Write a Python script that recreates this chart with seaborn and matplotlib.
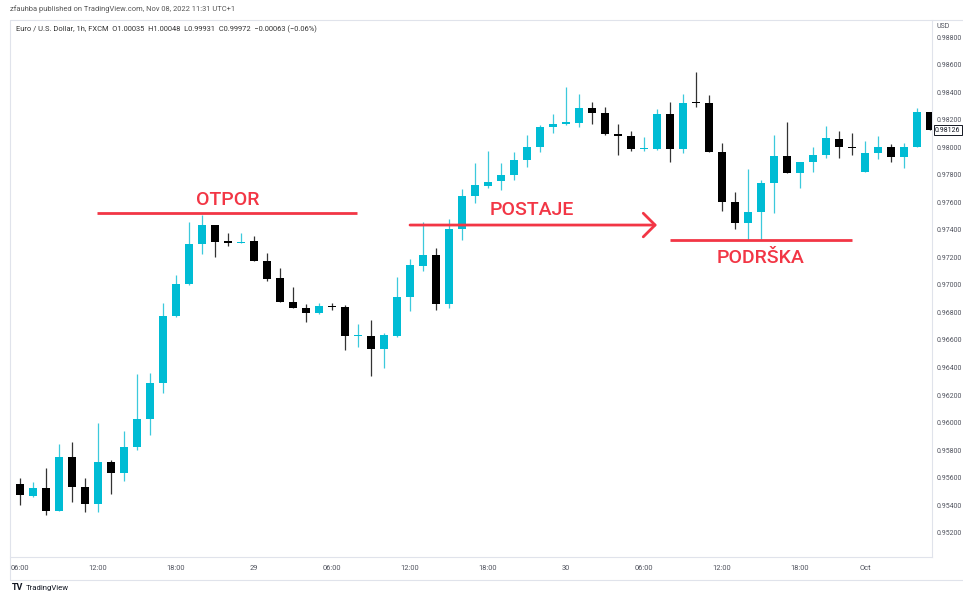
import numpy as np
import pandas as pd
import matplotlib
matplotlib.use("Agg")
import matplotlib.pyplot as plt
import seaborn as sns

# ---------------- data ----------------
opens = [0.95458, 0.95553, 0.95465, 0.95524, 0.95356, 0.95749, 0.95531, 0.95407, 0.95713, 0.95633,
         0.95822, 0.96025, 0.96287, 0.96775, 0.97007, 0.97298, 0.97436, 0.97320, 0.97305, 0.97320,
         0.97175, 0.97051, 0.96876, 0.96833, 0.96796, 0.96847, 0.96840, 0.96629, 0.96629, 0.96534,
         0.96629, 0.96913, 0.97138, 0.97218, 0.96862, 0.97407, 0.97647, 0.97720, 0.97756, 0.97800,
         0.97909, 0.98004, 0.98149, 0.98171, 0.98178, 0.98287, 0.98251, 0.98098, 0.98084, 0.97989,
         0.97989, 0.98244, 0.97989, 0.98331, 0.98324, 0.97967, 0.97604, 0.97451, 0.97531, 0.97742,
         0.97938, 0.97815, 0.97895, 0.97945, 0.98062, 0.98004, 0.97822, 0.97960, 0.98004, 0.97931,
         0.98004, 0.98258]
highs = [0.95545, 0.95596, 0.95567, 0.95669, 0.95844, 0.95858, 0.95596, 0.95996, 0.95727, 0.95938,
         0.96353, 0.96360, 0.96869, 0.97073, 0.97458, 0.97509, 0.97436, 0.97378, 0.97378, 0.97356,
         0.97233, 0.97124, 0.96985, 0.96862, 0.96869, 0.96869, 0.96855, 0.96716, 0.96745, 0.96651,
         0.97058, 0.97189, 0.97458, 0.97269, 0.97480, 0.97698, 0.97887, 0.97975, 0.97887, 0.97967,
         0.98091, 0.98164, 0.98244, 0.98440, 0.98389, 0.98331, 0.98295, 0.98171, 0.98120, 0.98076,
         0.98280, 0.98331, 0.98389, 0.98549, 0.98382, 0.98033, 0.97676, 0.97844, 0.97764, 0.98091,
         0.98185, 0.97895, 0.98004, 0.98156, 0.98120, 0.98105, 0.98047, 0.98084, 0.98025, 0.98033,
         0.98287, 0.98258]
lows = [0.95458, 0.95400, 0.95458, 0.95327, 0.95356, 0.95422, 0.95349, 0.95349, 0.95480, 0.95574,
        0.95800, 0.95909, 0.96214, 0.96767, 0.97000, 0.97225, 0.97204, 0.97284, 0.97305, 0.97175,
        0.97029, 0.96876, 0.96833, 0.96731, 0.96789, 0.96818, 0.96527, 0.96549, 0.96338, 0.96396,
        0.96622, 0.96811, 0.97102, 0.96818, 0.96833, 0.97327, 0.97596, 0.97705, 0.97691, 0.97764,
        0.97858, 0.97967, 0.98105, 0.98164, 0.98149, 0.98171, 0.98091, 0.97945, 0.97975, 0.97975,
        0.97982, 0.97895, 0.97960, 0.98295, 0.97967, 0.97538, 0.97407, 0.97327, 0.97327, 0.97524,
        0.97815, 0.97705, 0.97822, 0.97924, 0.97924, 0.97945, 0.97822, 0.97916, 0.97895, 0.97851,
        0.98004, 0.98127]
closes = [0.95545, 0.95473, 0.95524, 0.95356, 0.95749, 0.95531, 0.95407, 0.95713, 0.95633, 0.95822,
          0.96025, 0.96287, 0.96775, 0.97007, 0.97298, 0.97436, 0.97313, 0.97305, 0.97313, 0.97175,
          0.97044, 0.96876, 0.96833, 0.96796, 0.96847, 0.96840, 0.96629, 0.96636, 0.96534, 0.96636,
          0.96913, 0.97145, 0.97218, 0.96862, 0.97407, 0.97647, 0.97727, 0.97749, 0.97800, 0.97909,
          0.98004, 0.98149, 0.98171, 0.98185, 0.98287, 0.98251, 0.98098, 0.98084, 0.97989, 0.97996,
          0.98244, 0.97989, 0.98324, 0.98324, 0.97967, 0.97604, 0.97451, 0.97531, 0.97742, 0.97938,
          0.97815, 0.97895, 0.97945, 0.98069, 0.98004, 0.97996, 0.97960, 0.98004, 0.97931, 0.98004,
          0.98258, 0.98126]
# bar index (hourly bars, first one is 05:00 on Sep 28 and is cut by the pane edge)
bar_index = list(range(-1, 71))

price_ticks = [0.952, 0.954, 0.956, 0.958, 0.960, 0.962, 0.964, 0.966, 0.968, 0.970,
               0.972, 0.974, 0.976, 0.978, 0.980, 0.982, 0.984, 0.986, 0.988]
time_tick_pos = [0, 6, 12, 18, 24, 30, 36, 42, 48, 54, 60, 65]
time_tick_labels = ["06:00", "12:00", "18:00", "29", "06:00", "12:00", "18:00", "30",
                    "06:00", "12:00", "18:00", "Oct"]
last_price = 0.98126

# annotations: (x0, x1, level) lines and labels
otpor_line = (5.92, 25.92, 0.97524)
otpor_text = (16.0, 0.97582, "OTPOR")
postaje_arrow = (30.0, 49.0, 0.97436)
postaje_text = (39.4, 0.97509, "POSTAJE")
podrska_line = (50.0, 64.0, 0.97327)
podrska_text = (57.0, 0.97160, "PODRŠKA")

# ---------------- style ----------------
sns.set_theme(style="white")
plt.rcParams["font.family"] = ["Roboto", "DejaVu Sans"]

UP = "#00bcd4"
DOWN = "#000000"
RED = "#f23645"
AXTXT = "#50535e"
BORDER = "#e0e3eb"

df = pd.DataFrame({"i": bar_index, "open": opens, "high": highs, "low": lows, "close": closes})
df["up"] = df["close"] >= df["open"]
df["color"] = np.where(df["up"], UP, DOWN)
df["wick"] = np.where(df["up"], "#3cc9dc", "#333333")
df["bottom"] = df[["open", "close"]].min(axis=1)
df["height"] = (df["close"] - df["open"]).abs().clip(lower=0.00008)

W, H = 963, 594
fig = plt.figure(figsize=(W / 100, H / 100), dpi=100)
fig.patch.set_facecolor("white")
ax = fig.add_axes([10 / W, 1 - 557 / H, 922 / W, 537 / H])
ax.set_facecolor("white")

ax.vlines(df["i"], df["low"], df["high"], colors=df["wick"], linewidth=0.9, zorder=2)
ax.bar(df["i"], df["height"], bottom=df["bottom"], width=0.68, color=df["color"],
       linewidth=0, zorder=3)

ax.set_xlim(-0.77, 70.15)
ax.set_ylim(0.95022, 0.98927)

# axes
ax.yaxis.tick_right()
ax.set_yticks(price_ticks)
ax.set_yticklabels([f"{t:.5f}" for t in price_ticks])
ax.tick_params(axis="y", length=0, pad=3, labelsize=5.0, labelcolor=AXTXT)
ax.set_xticks(time_tick_pos)
ax.set_xticklabels(time_tick_labels)
ax.tick_params(axis="x", length=0, pad=6, labelsize=5.4, labelcolor=AXTXT)
for s in ax.spines.values():
    s.set_color(BORDER)
    s.set_linewidth(0.8)
ax.spines["left"].set_visible(False)
ax.spines["top"].set_visible(False)
ax.grid(False)

# last price label
ax.annotate(f"{last_price:.5f}", xy=(1.0, last_price), xycoords=("axes fraction", "data"),
            xytext=(2.2, 0), textcoords="offset points", ha="left", va="center",
            fontsize=5.0, color="#131722",
            bbox=dict(boxstyle="square,pad=0.2", fc="white", ec="#131722", lw=0.7),
            annotation_clip=False, zorder=10)

# red annotations
ax.hlines(otpor_line[2], otpor_line[0], otpor_line[1], color=RED, linewidth=2.0, zorder=4)
ax.text(otpor_text[0], otpor_text[1], otpor_text[2], color=RED, fontsize=14,
        fontweight="medium", ha="center", va="baseline", zorder=5)

ax.annotate("", xy=(postaje_arrow[1], postaje_arrow[2]), xytext=(postaje_arrow[0], postaje_arrow[2]),
            arrowprops=dict(arrowstyle="->,head_length=0.85,head_width=0.85", color=RED,
                            lw=2.0, shrinkA=0, shrinkB=0, mutation_scale=10), zorder=4)
ax.text(postaje_text[0], postaje_text[1], postaje_text[2], color=RED, fontsize=14,
        fontweight="medium", ha="center", va="baseline", zorder=5)

ax.hlines(podrska_line[2], podrska_line[0], podrska_line[1], color=RED, linewidth=2.0, zorder=4)
ax.text(podrska_text[0], podrska_text[1], podrska_text[2], color=RED, fontsize=14,
        fontweight="medium", ha="center", va="baseline", zorder=5)

# header texts
fig.text(10 / W, 1 - 9 / H, "zfauhba published on TradingView.com, Nov 08, 2022 11:31 UTC+1",
         fontsize=5.4, color="#555555", ha="left", va="center")
ax.text(6 / 922, 1 - 9 / 537,
        "Euro / U.S. Dollar, 1h, FXCM  O1.00035  H1.00048  L0.99931  C0.99972  \u22120.00063 (\u22120.06%)",
        transform=ax.transAxes, fontsize=5.4, color="#333333", ha="left", va="center")
fig.text(936 / W, 1 - 27 / H, "USD", fontsize=5.0, color=AXTXT, ha="left", va="center")

# frame lines of the time scale / pane
fig.add_artist(plt.Line2D([10 / W, 1], [1 - 580 / H, 1 - 580 / H], color=BORDER, lw=0.8))
fig.add_artist(plt.Line2D([10 / W, 10 / W], [1 - 580 / H, 1 - 20 / H], color=BORDER, lw=0.8))
fig.add_artist(plt.Line2D([10 / W, 1], [1 - 20 / H, 1 - 20 / H], color=BORDER, lw=0.8))

# footer logo
fig.text(12 / W, 1 - 588 / H, "TV", fontsize=6.5, fontweight="bold", color="#131722",
         ha="left", va="center")
fig.text(26 / W, 1 - 588 / H, "TradingView", fontsize=5.6, color="#131722",
         ha="left", va="center")

fig.savefig("out.png", dpi=100, facecolor="white")
